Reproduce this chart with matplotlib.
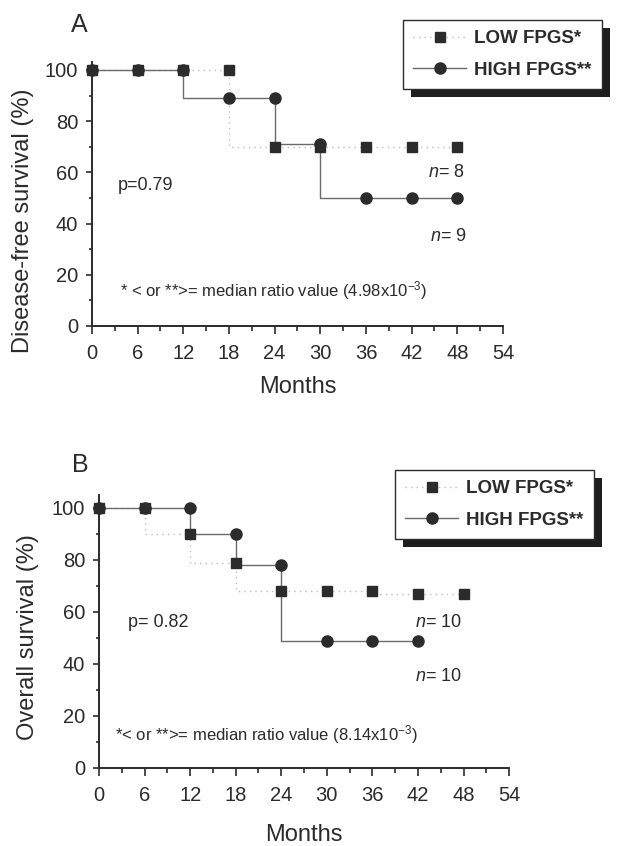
import matplotlib
matplotlib.use('Agg')
import matplotlib.pyplot as plt
import matplotlib.patheffects as pe
from matplotlib.lines import Line2D
from matplotlib.ticker import MultipleLocator

plt.rcParams['font.family'] = ['Liberation Sans', 'DejaVu Sans']
plt.rcParams['mathtext.fontset'] = 'custom'
plt.rcParams['mathtext.rm'] = 'Liberation Sans'
plt.rcParams['mathtext.it'] = 'Liberation Sans:italic'

# survival (%) read at each 6-month mark (value just before the step at that month)
months = [0, 6, 12, 18, 24, 30, 36, 42, 48]

dfs_low = [100, 100, 100, 100, 70, 70, 70, 70, 70]
dfs_high = [100, 100, 100, 89, 89, 71, 50, 50, 50]

os_months_high = [0, 6, 12, 18, 24, 30, 36, 42]
os_low = [100, 100, 90, 79, 68, 68, 68, 67, 67]
os_high = [100, 100, 100, 90, 78, 49, 49, 49]

labels = ['LOW FPGS*', 'HIGH FPGS**']

INK = '#2b2b2b'
HIGH_LINE = '#6a6a6a'
LOW_LINE = '#bdbdbd'
LOW_DOTS = (0, (1, 3))

fig = plt.figure(figsize=(6.19, 8.46), dpi=100)


def draw_panel(ax, x_low, y_low, x_high, y_high, ylabel, ytop, xpad):
    """Kaplan-Meier style steps with markers on every 6 months."""
    ax.step(x_high, y_high, where='pre', color=HIGH_LINE, lw=1.0, zorder=2)
    ax.plot(x_high, y_high, ls='none', marker='o', ms=8, color=INK,
            zorder=3, clip_on=False)
    ax.step(x_low, y_low, where='pre', color=LOW_LINE, lw=1.0,
            ls=LOW_DOTS, zorder=1)
    ax.plot(x_low, y_low, ls='none', marker='s', ms=7, color=INK,
            zorder=4, clip_on=False)

    ax.set_xlim(0, 54)
    ax.set_ylim(0, ytop)
    ax.xaxis.set_major_locator(MultipleLocator(6))
    ax.xaxis.set_minor_locator(MultipleLocator(3))
    ax.yaxis.set_minor_locator(MultipleLocator(10))
    ax.set_yticks([0, 20, 40, 60, 80, 100])
    ax.tick_params(axis='x', which='major', direction='out', length=6,
                   width=1.2, pad=7, labelsize=14.5, colors=INK)
    ax.tick_params(axis='x', which='minor', direction='out', length=3.5,
                   width=1.2, colors=INK)
    ax.tick_params(axis='y', which='major', direction='out', length=4,
                   width=1.2, pad=6, labelsize=14.5, colors=INK)
    ax.tick_params(axis='y', which='minor', direction='out', length=2.5,
                   width=1.2, colors=INK)
    for s in ['top', 'right']:
        ax.spines[s].set_visible(False)
    for s in ['left', 'bottom']:
        ax.spines[s].set_linewidth(1.4)
        ax.spines[s].set_color(INK)
    ax.set_xlabel('Months', fontsize=17, color=INK, labelpad=xpad)
    ax.set_ylabel(ylabel, fontsize=17, color=INK)

    handles = [
        Line2D([], [], color=LOW_LINE, ls=LOW_DOTS, lw=1.0, marker='s',
               ms=7, mfc=INK, mec=INK),
        Line2D([], [], color=HIGH_LINE, lw=1.0, marker='o', ms=8,
               mfc=INK, mec=INK),
    ]
    lg = ax.legend(handles, labels, loc='upper left', frameon=True,
                   fancybox=False, prop={'weight': 'bold', 'size': 13.5},
                   handlelength=2.8, handletextpad=0.45, labelspacing=0.75,
                   borderpad=0.55, numpoints=1, borderaxespad=0,
                   bbox_transform=fig.transFigure)
    return lg


# ---- panel A ----
axA = fig.add_axes([0.1486, 0.6147, 0.664, 0.3117])
legA = draw_panel(axA, months, dfs_low, months, dfs_high,
                  'Disease-free survival (%)', 103, 9)
legA.set_bbox_to_anchor((403 / 619, 1 - 20 / 846), transform=fig.transFigure)
axA.yaxis.set_label_coords(-0.141, 0.40)
axA.text(3.4, 55, 'p=0.79', fontsize=13, color=INK, va='center')
axA.text(49, 60, '$n$= 8', fontsize=13, color=INK, va='center', ha='right')
axA.text(49.2, 35, '$n$= 9', fontsize=13, color=INK, va='center', ha='right')
axA.text(3.7, 14, '* < or **>= median ratio value (4.98x10$^{-3}$)',
         fontsize=12, color=INK, va='center')
fig.text(79 / 619, 1 - 25 / 846, 'A', fontsize=18, color=INK,
         ha='center', va='center')

# ---- panel B ----
axB = fig.add_axes([0.16, 0.0922, 0.6624, 0.3227])
legB = draw_panel(axB, months, os_low, os_months_high, os_high,
                  'Overall survival (%)', 105, 14)
legB.set_bbox_to_anchor((395 / 619, 1 - 470 / 846), transform=fig.transFigure)
axB.yaxis.set_label_coords(-0.146, 0.48)
axB.text(3.8, 56, 'p= 0.82', fontsize=13, color=INK, va='center')
axB.text(47.8, 56, '$n$= 10', fontsize=13, color=INK, va='center', ha='right')
axB.text(47.8, 35, '$n$= 10', fontsize=13, color=INK, va='center', ha='right')
axB.text(2.1, 13, '*< or **>= median ratio value (8.14x10$^{-3}$)',
         fontsize=12, color=INK, va='center')
fig.text(80 / 619, 1 - 465 / 846, 'B', fontsize=18, color=INK,
         ha='center', va='center')

# boxed legends with a heavy drop shadow
for lg in (legA, legB):
    fr = lg.get_frame()
    fr.set_edgecolor(INK)
    fr.set_linewidth(1.0)
    fr.set_facecolor('white')
    fr.set_alpha(1)
    fr.set_path_effects([pe.SimplePatchShadow(offset=(6, -6),
                                              shadow_rgbFace='#1e1e1e',
                                              alpha=1.0),
                         pe.Normal()])
    for t in lg.get_texts():
        t.set_color(INK)

fig.savefig('out.png', dpi=100)
